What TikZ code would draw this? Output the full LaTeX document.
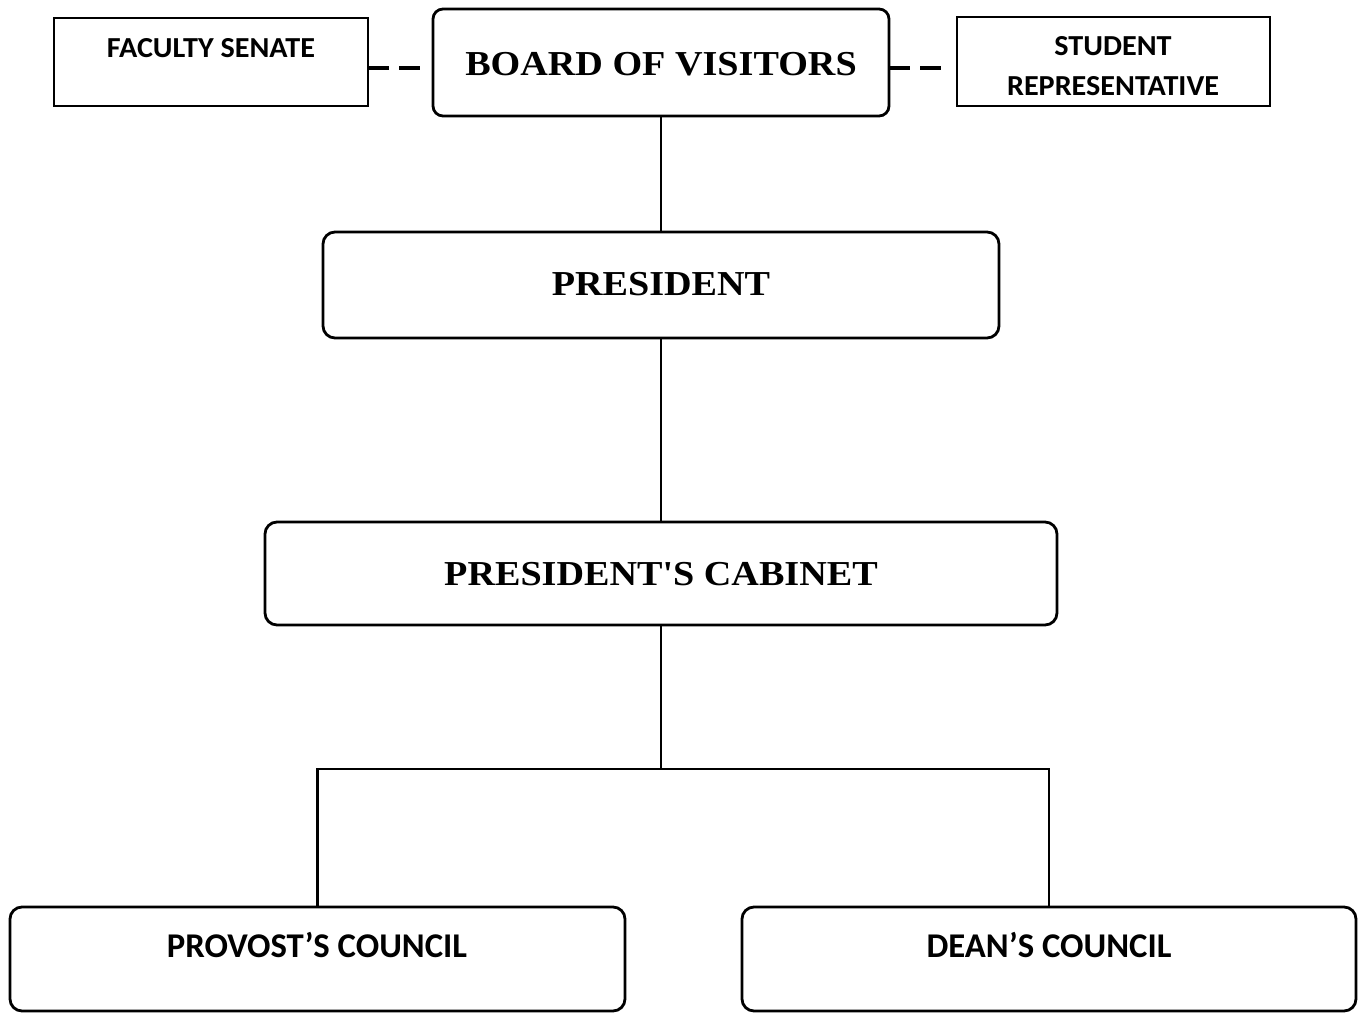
\documentclass[tikz,border=0pt]{standalone}
\usepackage{fontspec}
\newfontfamily\tmsfont[Ligatures=ResetAll]{Liberation Serif}
\newfontfamily\calfont{Carlito}
\newcommand{\wide}[2]{\scalebox{#1}[1]{#2}}
\begin{document}
\begin{tikzpicture}[x=1pt,y=-1pt,
  rbox/.style={draw, line width=2.8pt, rounded corners=12pt, inner sep=0pt, outer sep=0pt},
  sbox/.style={draw, line width=1.4pt, inner sep=0pt, outer sep=0pt},
  conn/.style={line width=2.8pt},
  dashc/.style={line width=4pt, dash pattern=on 21pt off 10pt on 21pt off 40pt},
  sert/.style={font=\tmsfont\fontsize{35}{40}\selectfont\bfseries, inner sep=0pt, anchor=base},
  sant/.style={font=\calfont\fontsize{29}{40}\selectfont\bfseries, inner sep=0pt, anchor=base},
  sanb/.style={font=\calfont\fontsize{34.7}{40}\selectfont\bfseries, inner sep=0pt, anchor=base}]
\useasboundingbox (0,0) rectangle (1361,1013);
% boxes
\node[sbox, minimum width=314pt, minimum height=88pt] (fs) at (211,62) {};
\node[rbox, rounded corners=10pt, minimum width=456pt, minimum height=107pt] (bov) at (661,62.5) {};
\node[sbox, minimum width=313pt, minimum height=89pt] (sr) at (1113.5,61.5) {};
\node[rbox, minimum width=676pt, minimum height=106pt] (pres) at (661,285) {};
\node[rbox, minimum width=792pt, minimum height=103pt] (cab) at (661,573.5) {};
\node[rbox, minimum width=615pt, minimum height=104pt] (prov) at (317.5,959) {};
\node[rbox, minimum width=614pt, minimum height=104pt] (dean) at (1049,959) {};
% texts
\node[sant] (fst) at (211,57) {\wide{1.04}{FACULTY SENATE}};
\node[sert] (bovt) at (661,75) {\wide{1.09}{BOARD OF VISITORS}};
\node[sant] (srt1) at (1113,55) {\wide{1.04}{STUDENT}};
\node[sant] (srt2) at (1113,95) {\wide{1.04}{REPRESENTATIVE}};
\node[sert] (prest) at (661,295) {\wide{1.09}{PRESIDENT}};
\node[sert] (cabt) at (661,585) {\wide{1.09}{PRESIDENT'S CABINET}};
\node[sanb] (provt) at (317,957) {PROVOST’S COUNCIL};
\node[sanb] (deant) at (1049,957) {DEAN’S COUNCIL};
% connectors
\coordinate (dy) at (0,68);
\coordinate (split) at (661,769);
\draw[dashc] (fs.east |- dy) -- (bov.west |- dy);
\draw[dashc] (bov.east |- dy) -- (sr.west |- dy);
\draw[conn] (bov.south) -- (pres.north);
\draw[conn] (pres.south) -- (cab.north);
\draw[conn] (cab.south) -- (split);
\draw[conn] (prov.north) -- (prov.north |- split) -- (dean.north |- split) -- (dean.north);
\end{tikzpicture}
\end{document}
